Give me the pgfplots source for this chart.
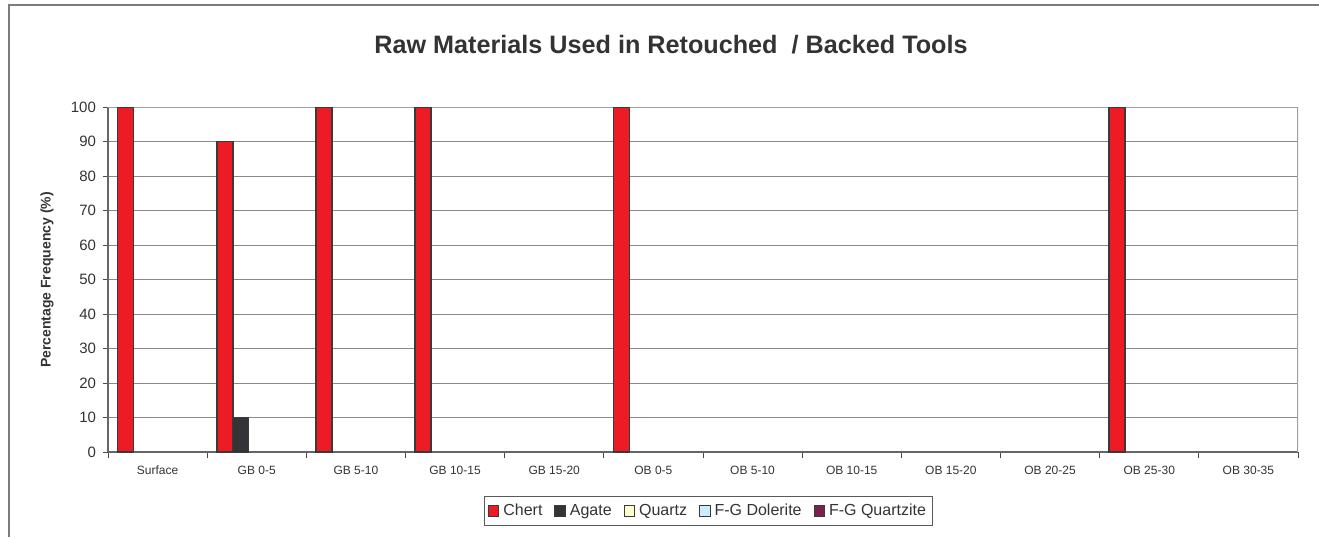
\documentclass[border=0pt]{standalone}
\usepackage{pgfplots}
\pgfplotsset{compat=1.18}
\usepackage{fontspec}
\setmainfont{Liberation Sans}
\definecolor{chert}{HTML}{ED1C24}
\definecolor{agate}{HTML}{333338}
\definecolor{quartz}{HTML}{FFFFCC}
\definecolor{dolerite}{HTML}{CCECFF}
\definecolor{quartzite}{HTML}{7B2150}
\definecolor{txt}{HTML}{333333}
\definecolor{gridc}{HTML}{8A8A8A}
\definecolor{edge}{HTML}{3A3A3A}
\definecolor{frame}{HTML}{A89E9C}
\begin{document}
\begin{tikzpicture}
\useasboundingbox (0,0) rectangle (659.5pt,268.5pt);
\draw[color=gridc!90!black, line width=0.6pt] (4.5pt,0) -- (4.5pt,266pt) -- (659.5pt,266pt);
\node[font=\fontsize{12.6}{14}\selectfont\bfseries, text=txt] at (335.5pt,246pt) {Raw Materials Used in Retouched \ / Backed Tools};
\node[font=\fontsize{7}{8}\selectfont\bfseries, text=txt, rotate=90] at (23.5pt,128.5pt) {Percentage Frequency (\%)};
\begin{axis}[
  at={(54pt,42.5pt)}, anchor=south west,
  scale only axis, width=595pt, height=172.5pt,
  xmin=-0.5, xmax=11.5, ymin=0, ymax=100,
  ytick={0,10,...,100},
  xtick={0,...,11},
  xticklabels={Surface,GB 0-5,GB 5-10,GB 10-15,GB 15-20,OB 0-5,OB 5-10,OB 10-15,OB 15-20,OB 20-25,OB 25-30,OB 30-35},
  minor xtick={-0.5,0.5,...,11.5},
  xtick pos=bottom, ytick pos=left,
  tick align=outside,
  major x tick style={draw=none},
  minor tick length=3pt,
  major tick length=2.5pt,
  tick style={color=black!70, line width=0.5pt},
  xticklabel style={font=\fontsize{6}{7}\selectfont, text=txt, yshift=-1pt},
  yticklabel style={font=\fontsize{7.5}{9}\selectfont, text=txt},
  /pgf/number format/assume math mode=true,
  ymajorgrids,
  grid style={color=gridc, line width=0.5pt},
  axis x line*=bottom, axis y line*=left,
  axis line style={color=black!60, line width=0.6pt, -},
  ybar, bar width=8pt,
  legend style={at={(0.505,-0.171)}, anchor=center, legend columns=-1,
    draw=black!65, line width=0.5pt, font=\fontsize{8}{9}\selectfont, text=txt,
    inner sep=1.5pt, /tikz/every even column/.append style={column sep=4pt}},
  legend image code/.code={\draw[#1, line width=0.5pt] (0pt,-2.6pt) rectangle (5.2pt,2.6pt);},
]
\draw[color=frame, line width=0.6pt] (rel axis cs:0,1) -- (rel axis cs:1,1) -- (rel axis cs:1,0);
\addplot[fill=chert, draw=edge, line width=0.8pt, bar shift=-16pt] coordinates {
  (0,100) (1,90) (2,100) (3,100) (5,100) (10,100)};
\addlegendentry{Chert}
\addplot[fill=agate, draw=edge, line width=0.5pt, bar shift=-8pt] coordinates {
  (1,10)};
\addlegendentry{Agate}
\addlegendimage{fill=quartz, draw=edge}
\addlegendentry{Quartz}
\addlegendimage{fill=dolerite, draw=edge}
\addlegendentry{F-G Dolerite}
\addlegendimage{fill=quartzite, draw=edge}
\addlegendentry{F-G Quartzite}
\end{axis}
\end{tikzpicture}
\end{document}
